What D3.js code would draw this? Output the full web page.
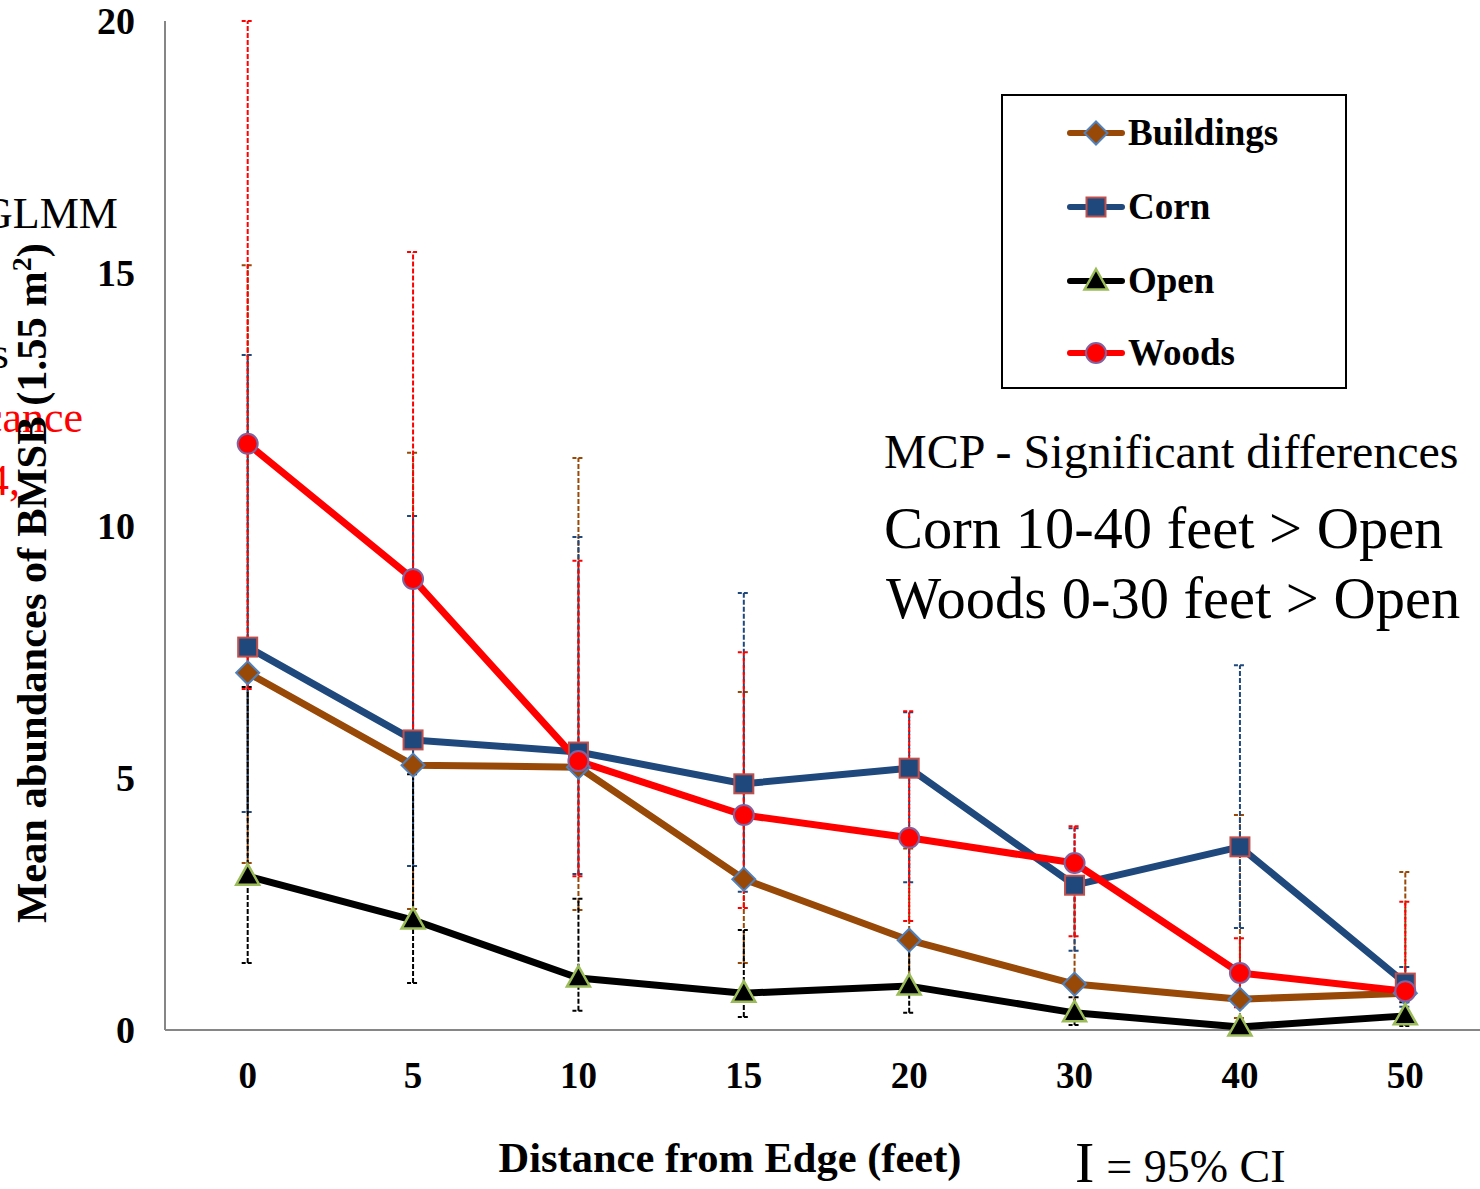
<!DOCTYPE html>
<html>
<head>
<meta charset="utf-8">
<script src="https://cdn.jsdelivr.net/npm/d3@7"></script>
<style>
  html, body { margin: 0; padding: 0; background: #fff; }
  svg { display: block; font-family: "Liberation Serif", "Times New Roman", serif; }
</style>
</head>
<body>
<div id="chart"></div>
<script>
// Distance categories (feet)
const distances = ["0", "5", "10", "15", "20", "30", "40", "50"];
const yTicks = [0, 5, 10, 15, 20];

// Means per habitat
const buildings = [7.08, 5.25, 5.21, 2.99, 1.78, 0.91, 0.61, 0.73];
const corn      = [7.59, 5.75, 5.51, 4.88, 5.19, 2.87, 3.63, 0.93];
const open      = [3.05, 2.18, 1.03, 0.73, 0.87, 0.34, 0.06, 0.28];
const woods     = [11.62, 8.94, 5.33, 4.26, 3.81, 3.31, 1.13, 0.77];

// 95% CI lower / upper
const buildingsLo = [3.31, 2.40, 2.38, 1.33, 0.85, 0.30, 0.24, 0.25];
const buildingsHi = [15.16, 11.44, 11.34, 6.70, 3.60, 2.90, 4.26, 3.13];
const cornLo      = [4.32, 3.25, 3.09, 2.74, 2.93, 1.57, 2.02, 0.46];
const cornHi      = [13.38, 10.19, 9.77, 8.66, 6.30, 4.00, 7.23, 1.25];
const openLo      = [1.33, 0.93, 0.38, 0.26, 0.34, 0.10, 0.00, 0.08];
const openHi      = [6.80, 5.07, 2.60, 1.98, 1.70, 0.65, 0.10, 0.55];
const woodsLo     = [6.76, 5.70, 3.05, 2.42, 2.16, 1.86, 0.45, 0.20];
const woodsHi     = [20.0, 15.42, 9.30, 7.49, 6.32, 4.04, 1.82, 2.54];

const seriesNames = ["Buildings", "Corn", "Open", "Woods"];

const series = [
    {name: "Buildings", values: buildings, lo: buildingsLo, hi: buildingsHi,
     line: "#984807", fill: "#984807", edge: "#4F81BD", shape: "diamond"},
    {name: "Corn", values: corn, lo: cornLo, hi: cornHi,
     line: "#1F497D", fill: "#1F497D", edge: "#C0504D", shape: "square"},
    {name: "Open", values: open, lo: openLo, hi: openHi,
     line: "#000000", fill: "#000000", edge: "#9BBB59", shape: "triangle"},
    {name: "Woods", values: woods, lo: woodsLo, hi: woodsHi,
     line: "#FF0000", fill: "#FF0000", edge: "#8064A2", shape: "circle"}
];

const width = 1480, height = 1189;
const plot = {left: 165, right: 1488, top: 21, bottom: 1030};

const svg = d3.select("#chart").append("svg")
    .attr("width", width)
    .attr("height", height);

const x = d3.scaleBand().domain(distances).range([plot.left, plot.right]);
const cx = d => x(d) + x.bandwidth() / 2;
const y = d3.scaleLinear().domain([0, 20]).range([plot.bottom, plot.top]);

// Clipped text bits on the left edge (from the slide behind)
const leftBits = [
    {t: "GLMM", x: 118, y: 228, c: "#000"},
    {t: "Means", x: 9, y: 368, c: "#000"},
    {t: "Significance", x: 83, y: 432, c: "#FF0000"},
    {t: "2014,", x: 20, y: 495, c: "#FF0000"}
];
svg.selectAll("text.bit")
    .data(leftBits)
    .join("text")
    .attr("class", "bit")
    .attr("x", d => d.x)
    .attr("y", d => d.y)
    .attr("text-anchor", "end")
    .attr("font-size", 44)
    .attr("fill", d => d.c)
    .text(d => d.t);

// Axes
svg.append("line")
    .attr("x1", plot.left).attr("x2", plot.left)
    .attr("y1", plot.top).attr("y2", plot.bottom)
    .attr("stroke", "#868686").attr("stroke-width", 2);
svg.append("line")
    .attr("x1", plot.left).attr("x2", width)
    .attr("y1", plot.bottom).attr("y2", plot.bottom)
    .attr("stroke", "#868686").attr("stroke-width", 2);

svg.selectAll("text.ytick")
    .data(yTicks)
    .join("text")
    .attr("class", "ytick")
    .attr("x", 135)
    .attr("y", d => y(d) + 13)
    .attr("text-anchor", "end")
    .attr("font-size", 38)
    .attr("font-weight", "bold")
    .text(d => d);

svg.selectAll("text.xtick")
    .data(distances)
    .join("text")
    .attr("class", "xtick")
    .attr("x", d => cx(d))
    .attr("y", 1088)
    .attr("text-anchor", "middle")
    .attr("font-size", 37)
    .attr("font-weight", "bold")
    .text(d => d);

// Axis titles
const yTitle = svg.append("text")
    .attr("transform", "translate(46,583) rotate(-90)")
    .attr("text-anchor", "middle")
    .attr("font-size", 42.5)
    .attr("font-weight", "bold");
yTitle.append("tspan").text("Mean abundances of BMSB (1.55 m");
yTitle.append("tspan").attr("baseline-shift", "super").attr("font-size", 28).text("2");
yTitle.append("tspan").text(")");

svg.append("text")
    .attr("x", 730)
    .attr("y", 1172)
    .attr("text-anchor", "middle")
    .attr("font-size", 42.5)
    .attr("font-weight", "bold")
    .text("Distance from Edge (feet)");

// Error bars (dashed)
const errG = svg.append("g");
series.forEach(s => {
    const g = errG.append("g");
    distances.forEach((d, i) => {
        const px = cx(d);
        g.append("line")
            .attr("x1", px).attr("x2", px)
            .attr("y1", y(s.lo[i])).attr("y2", y(s.hi[i]))
            .attr("stroke", s.line).attr("stroke-width", 2)
            .attr("stroke-dasharray", "5,2");
        [s.lo[i], s.hi[i]].forEach(v => {
            g.append("line")
                .attr("x1", px - 6).attr("x2", px + 6)
                .attr("y1", y(v)).attr("y2", y(v))
                .attr("stroke", s.line).attr("stroke-width", 2)
                .attr("stroke-dasharray", "4,2");
        });
    });
});

// Lines
const line = d3.line()
    .x((v, i) => cx(distances[i]))
    .y(v => y(v));

series.forEach(s => {
    svg.append("path")
        .attr("d", line(s.values))
        .attr("fill", "none")
        .attr("stroke", s.line)
        .attr("stroke-width", 7)
        .attr("stroke-linejoin", "round");
});

// Markers
function drawMarker(g, s, px, py) {
    if (s.shape === "circle") {
        g.append("circle")
            .attr("cx", px).attr("cy", py).attr("r", 10)
            .attr("fill", s.fill).attr("stroke", s.edge).attr("stroke-width", 2);
    } else if (s.shape === "square") {
        g.append("rect")
            .attr("x", px - 9.5).attr("y", py - 9.5)
            .attr("width", 19).attr("height", 19)
            .attr("fill", s.fill).attr("stroke", s.edge).attr("stroke-width", 2);
    } else if (s.shape === "diamond") {
        g.append("path")
            .attr("d", `M${px},${py - 11.5}L${px + 11.5},${py}L${px},${py + 11.5}L${px - 11.5},${py}Z`)
            .attr("fill", s.fill).attr("stroke", s.edge).attr("stroke-width", 2);
    } else {
        g.append("path")
            .attr("d", `M${px},${py - 12}L${px + 11.5},${py + 8.5}L${px - 11.5},${py + 8.5}Z`)
            .attr("fill", s.fill).attr("stroke", s.edge).attr("stroke-width", 2.5);
    }
}

series.forEach(s => {
    const g = svg.append("g");
    s.values.forEach((v, i) => drawMarker(g, s, cx(distances[i]), y(v)));
});

// Legend
svg.append("rect")
    .attr("x", 1002).attr("y", 95)
    .attr("width", 344).attr("height", 293)
    .attr("fill", "#fff")
    .attr("stroke", "#000").attr("stroke-width", 2);

const legendY = [133, 207, 281, 353];
series.forEach((s, i) => {
    const ly = legendY[i];
    svg.append("line")
        .attr("x1", 1070).attr("x2", 1122)
        .attr("y1", ly).attr("y2", ly)
        .attr("stroke", s.line).attr("stroke-width", 6)
        .attr("stroke-linecap", "round");
    drawMarker(svg, s, 1096, ly);
    svg.append("text")
        .attr("x", 1128)
        .attr("y", ly + 12)
        .attr("font-size", 37)
        .attr("font-weight", "bold")
        .text(seriesNames[i]);
});

// Annotations
svg.append("text")
    .attr("x", 884).attr("y", 468)
    .attr("font-size", 48)
    .text("MCP - Significant differences");
svg.append("text")
    .attr("x", 884).attr("y", 548)
    .attr("font-size", 58.5)
    .text("Corn 10-40 feet > Open");
svg.append("text")
    .attr("x", 886).attr("y", 618)
    .attr("font-size", 58.5)
    .text("Woods 0-30 feet > Open");

const ci = svg.append("text")
    .attr("x", 1075).attr("y", 1182);
ci.append("tspan").attr("font-size", 58).text("I");
ci.append("tspan").attr("font-size", 46).attr("dx", 12).text("= 95% CI");
</script>
</body>
</html>
